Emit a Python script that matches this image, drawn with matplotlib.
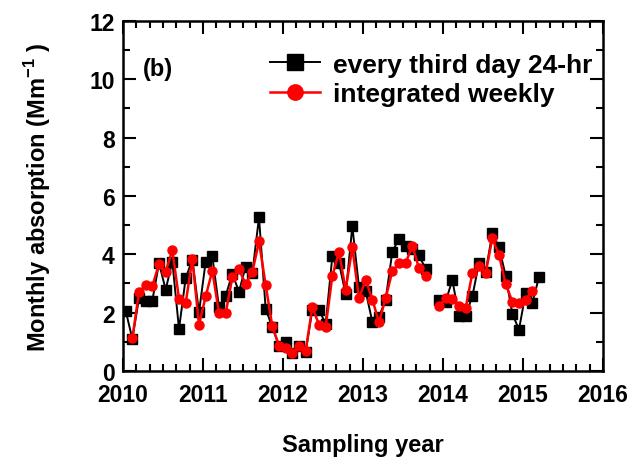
import matplotlib
matplotlib.use("Agg")
import matplotlib.pyplot as plt
import numpy as np
from matplotlib.ticker import MultipleLocator

plt.rcParams["font.family"] = ["Liberation Sans", "DejaVu Sans"]
plt.rcParams["font.weight"] = "bold"
plt.rcParams["mathtext.fontset"] = "custom"
plt.rcParams["mathtext.rm"] = "Liberation Sans:bold"
plt.rcParams["mathtext.bf"] = "Liberation Sans:bold"

# monthly index from Jan 2010 (0) to Mar 2015 (62); Nov 2013 (46) not sampled
months_24hr = list(range(0, 46)) + list(range(47, 63))
every_third_day = [
    2.07, 1.10, 2.50, 2.41, 2.41, 3.70, 2.79, 3.75, 1.44, 3.18,
    3.82, 2.01, 3.75, 3.93, 2.19, 2.58, 3.33, 2.72, 3.58, 3.35,
    5.27, 2.13, 1.50, 0.87, 0.98, 0.62, 0.85, 0.66, 2.10, 2.10,
    1.61, 3.93, 3.70, 2.64, 4.96, 2.87, 2.73, 1.69, 1.85, 2.45,
    4.09, 4.53, 4.30, 4.19, 3.96, 3.50,
    2.45, 2.38, 3.12, 1.88, 1.90, 2.56, 3.70, 3.39, 4.73, 4.24,
    3.27, 1.96, 1.42, 2.68, 2.32, 3.23,
]

months_weekly = list(range(1, 46)) + list(range(47, 62))
integrated_weekly = [
    1.12, 2.70, 2.95, 2.91, 3.67, 3.39, 4.15, 2.47, 2.32,
    3.84, 1.58, 2.56, 3.44, 1.98, 1.98, 3.21, 3.48, 2.98, 3.39,
    4.44, 2.95, 1.53, 0.87, 0.78, 0.61, 0.87, 0.70, 2.19, 1.59,
    1.52, 3.25, 4.09, 2.78, 4.24, 2.49, 3.13, 2.45, 1.67, 2.50,
    3.42, 3.69, 3.70, 4.30, 3.52, 3.25,
    2.22, 2.50, 2.47, 2.22, 2.16, 3.36, 3.61, 3.35, 4.55, 3.98,
    2.98, 2.38, 2.32, 2.45, 2.75,
]


def to_year(idx):
    return 2010 + (np.asarray(idx) + 0.4) / 12.0


def gapped(idx, vals):
    # insert NaN where a month is skipped so the line breaks
    xs, ys = [], []
    prev = None
    for i, v in zip(idx, vals):
        if prev is not None and i - prev > 1:
            xs.append(np.nan)
            ys.append(np.nan)
        xs.append(to_year(i))
        ys.append(v)
        prev = i
    return np.array(xs), np.array(ys)


fig = plt.figure(figsize=(6.35, 4.64), dpi=100)
ax = fig.add_axes([0.1937, 0.1983, 0.7559, 0.7543])

x1, y1 = gapped(months_24hr, every_third_day)
x2, y2 = gapped(months_weekly, integrated_weekly)
ax.plot(x1, y1, color="black", lw=1.4, marker="s", ms=6.5, mec="black", mfc="black",
        label="every third day 24-hr")
ax.plot(x2, y2, color="red", lw=1.8, marker="o", ms=6.5, mec="red", mfc="red",
        label="integrated weekly")

ax.set_xlim(2010, 2016)
ax.set_ylim(0, 12)
ax.xaxis.set_major_locator(MultipleLocator(1))
ax.xaxis.set_minor_locator(MultipleLocator(1 / 6))
ax.yaxis.set_major_locator(MultipleLocator(2))
ax.yaxis.set_minor_locator(MultipleLocator(1))
ax.tick_params(which="both", direction="in", top=True, right=True, width=1.5)
ax.tick_params(which="major", length=9.5, labelsize=16.5)
ax.tick_params(axis="x", which="major", pad=9)
ax.tick_params(axis="y", which="major", pad=6)
ax.tick_params(which="minor", length=5)
for sp in ax.spines.values():
    sp.set_linewidth(1.8)
for lab in ax.get_xticklabels() + ax.get_yticklabels():
    lab.set_fontweight("bold")

ax.set_xlabel("Sampling year", fontsize=17, fontweight="bold", labelpad=19)
ax.set_ylabel(r"Monthly absorption (Mm$^{-1}$ )", fontsize=17,
              fontweight="bold", labelpad=26)
ax.text(0.042, 0.845, "(b)", transform=ax.transAxes, fontsize=17, fontweight="bold")

ax.legend(loc="upper right", frameon=False, markerscale=1.7,
          handlelength=1.9, handletextpad=0.5, labelspacing=0.2,
          borderaxespad=0.0, bbox_to_anchor=(1.0, 0.94),
          prop={"weight": "bold", "size": 19})

fig.savefig("out.png", dpi=100)
